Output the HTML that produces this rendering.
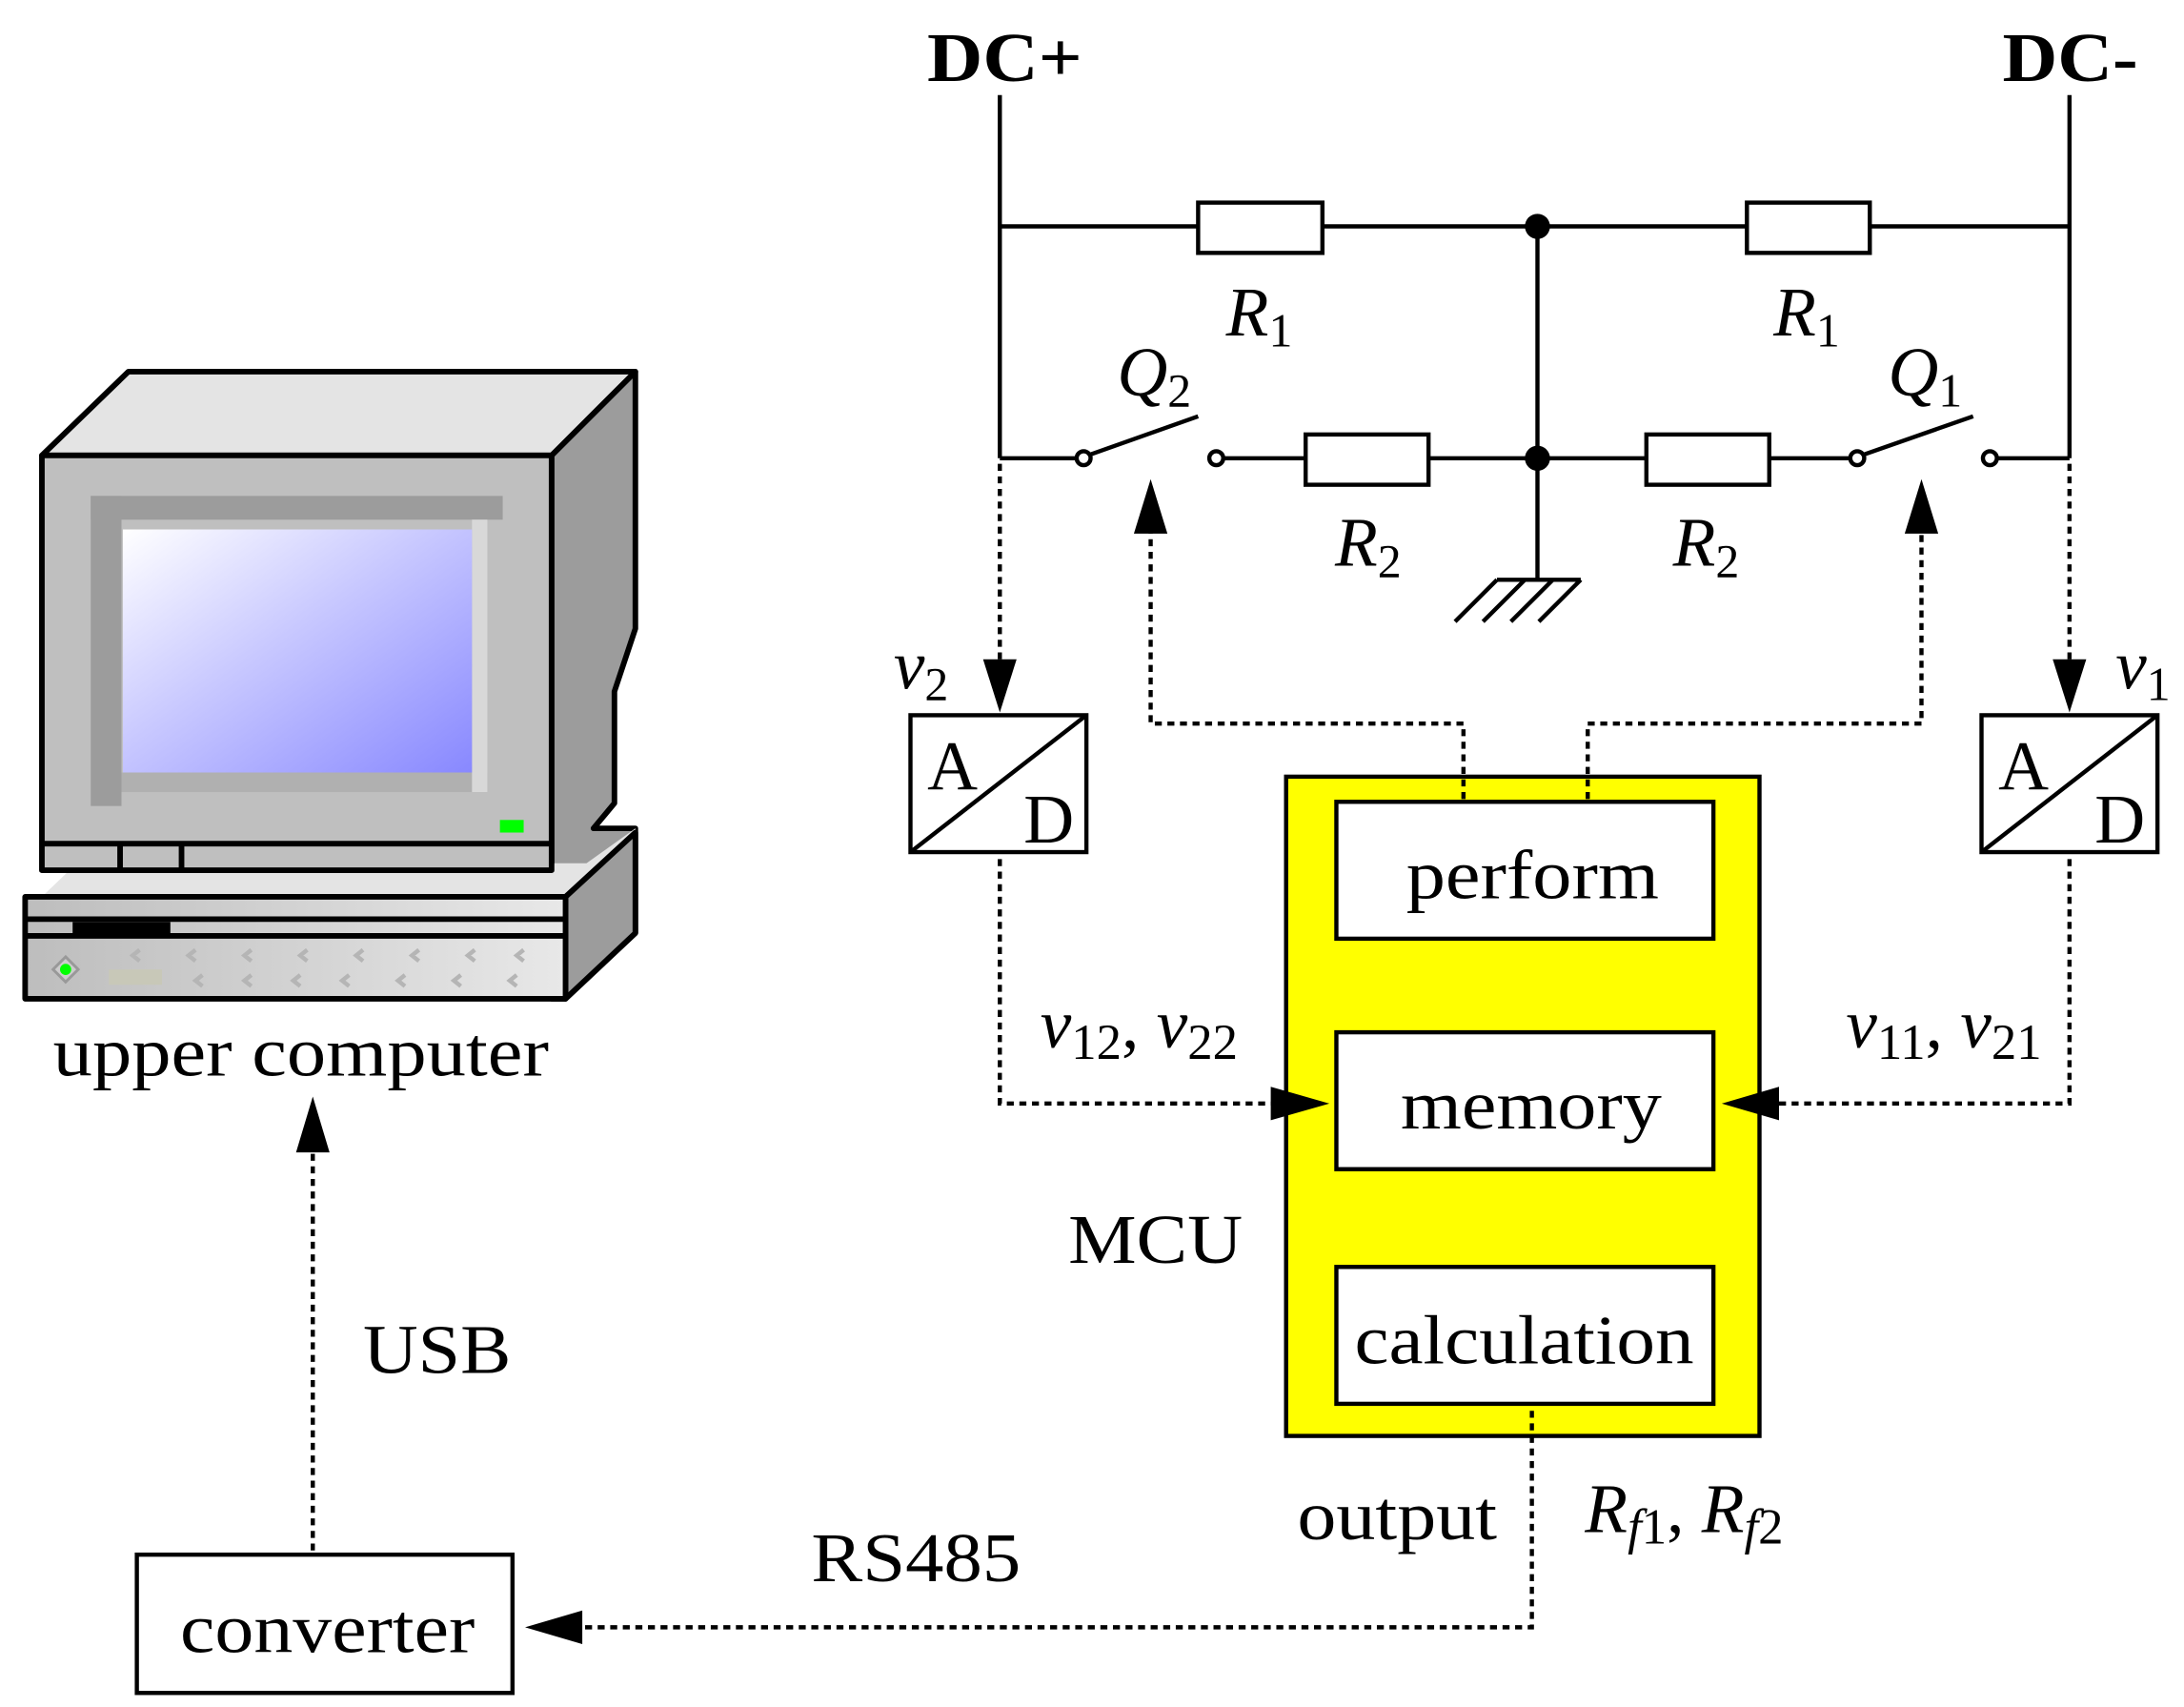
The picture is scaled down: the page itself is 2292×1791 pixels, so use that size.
<!DOCTYPE html>
<html><head><meta charset="utf-8"><style>
html,body{margin:0;padding:0;background:#fff}
svg{display:block}
text{font-family:"Liberation Serif",serif;fill:#000}
</style></head><body>
<svg width="2292" height="1791" viewBox="0 0 1564 1222" xmlns="http://www.w3.org/2000/svg">
<defs>
<linearGradient id="scr" x1="0" y1="0" x2="1" y2="1"><stop offset="0" stop-color="#ffffff"/><stop offset="0.45" stop-color="#c8c8ff"/><stop offset="1" stop-color="#8888ff"/></linearGradient>
<linearGradient id="base" x1="0" y1="0" x2="1" y2="0"><stop offset="0" stop-color="#bdbdbd"/><stop offset="1" stop-color="#e8e8e8"/></linearGradient>
</defs>
<g stroke="#000" stroke-width="3" fill="none">
<line x1="716" y1="68" x2="716" y2="328"/><line x1="1482" y1="68" x2="1482" y2="328"/>
<line x1="716" y1="162" x2="858" y2="162"/><line x1="947" y1="162" x2="1251" y2="162"/><line x1="1339" y1="162" x2="1482" y2="162"/>
<rect x="858" y="145" width="89" height="36" fill="#fff"/><rect x="1251" y="145" width="88" height="36" fill="#fff"/>
<line x1="1101" y1="162" x2="1101" y2="415"/>
<line x1="716" y1="328" x2="771" y2="328"/>
<line x1="779" y1="326" x2="858" y2="298"/>
<line x1="876" y1="328" x2="935" y2="328"/><line x1="1023" y1="328" x2="1179" y2="328"/><line x1="1267" y1="328" x2="1325" y2="328"/>
<line x1="1333" y1="326" x2="1413" y2="298"/>
<line x1="1430" y1="328" x2="1482" y2="328"/>
<rect x="935" y="311" width="88" height="36" fill="#fff"/><rect x="1179" y="311" width="88" height="36" fill="#fff"/>
<circle cx="776" cy="328" r="5" fill="#fff"/><circle cx="871" cy="328" r="5" fill="#fff"/>
<circle cx="1330" cy="328" r="5" fill="#fff"/><circle cx="1425" cy="328" r="5" fill="#fff"/>
<line x1="1072" y1="415" x2="1132" y2="415"/>
<line x1="1072" y1="415" x2="1042" y2="445"/><line x1="1092" y1="415" x2="1062" y2="445"/><line x1="1112" y1="415" x2="1082" y2="445"/><line x1="1132" y1="415" x2="1102" y2="445"/>
<rect x="652" y="512" width="126" height="98" fill="#fff"/><line x1="652" y1="610" x2="778" y2="512"/>
<rect x="1419" y="512" width="126" height="98" fill="#fff"/><line x1="1419" y1="610" x2="1545" y2="512"/>
<rect x="921" y="556" width="339" height="472" fill="#ffff00"/>
<rect x="957" y="574" width="270" height="98" fill="#fff"/>
<rect x="957" y="739" width="270" height="98" fill="#fff"/>
<rect x="957" y="907" width="270" height="98" fill="#fff"/>
<rect x="98" y="1113" width="269" height="99" fill="#fff"/>
</g>
<g fill="#000"><circle cx="1101" cy="162" r="9"/><circle cx="1101" cy="328" r="9"/></g>
<g stroke="#000" stroke-width="3" fill="none" stroke-dasharray="5,4">
<line x1="716" y1="332" x2="716" y2="478"/>
<line x1="1482" y1="332" x2="1482" y2="478"/>
<polyline points="1048,572 1048,518 824,518 824,380"/>
<polyline points="1137,572 1137,518 1376,518 1376,380"/>
<polyline points="716,615 716,790 915,790"/>
<polyline points="1482,615 1482,790 1270,790"/>
<polyline points="1097,1010 1097,1165 415,1165"/>
<line x1="224" y1="1110" x2="224" y2="825"/>
</g>
<g fill="#000">
<path d="M704,472 L728,472 L716,510 z"/><path d="M1470,472 L1494,472 L1482,510 z"/>
<path d="M812,382 L836,382 L824,343 z"/><path d="M1364,382 L1388,382 L1376,343 z"/>
<path d="M910,778 L910,802 L952,790 z"/><path d="M1274,778 L1274,802 L1233,790 z"/>
<path d="M417,1153 L417,1177 L376,1165 z"/>
<path d="M212,825 L236,825 L224,785 z"/>
</g>
<g stroke="#000" stroke-width="4" stroke-linejoin="round">
<path d="M395,326 L455,266 L455,450 L440,495 L440,575 L425,593 L455,593 L455,668 L405,715 L395,715 Z" fill="#9c9c9c"/>
<path d="M30,326 L92,266 L455,266 L395,326 Z" fill="#e4e4e4"/>
<path d="M30,642 L55,618 L420,618 L455,593 L455,668 L405,715 L405,642 Z" fill="#e4e4e4" stroke="none"/>
<path d="M405,642 L455,596 L455,668 L405,715 Z" fill="#9c9c9c"/>
<rect x="30" y="326" width="365" height="297" fill="#bfbfbf"/>
<rect x="18" y="642" width="387" height="73" fill="url(#base)"/>
</g>
<rect x="65" y="355" width="295" height="17" fill="#9c9c9c"/>
<rect x="65" y="355" width="22" height="222" fill="#9c9c9c"/>
<rect x="87" y="553" width="262" height="14" fill="#b0b0b0"/>
<rect x="338" y="372" width="11" height="195" fill="#d8d8d8"/>
<rect x="88" y="379" width="250" height="174" fill="url(#scr)"/>
<rect x="358" y="587" width="17" height="9" fill="#00ff00"/>
<g stroke="#000" stroke-width="4" fill="none">
<line x1="30" y1="604" x2="395" y2="604"/><line x1="86" y1="604" x2="86" y2="623"/><line x1="130" y1="604" x2="130" y2="623"/>
<line x1="18" y1="658" x2="405" y2="658"/><line x1="18" y1="670" x2="405" y2="670"/>
</g>
<rect x="52" y="660" width="70" height="9" fill="#000"/>
<rect x="78" y="694" width="38" height="11" fill="#c8c8b8"/>
<path d="M47,685 L56,694 L47,703 L38,694 Z" fill="#ccc" stroke="#999" stroke-width="2"/><circle cx="47" cy="694" r="4" fill="#00ff00"/>
<g fill="none" stroke="#b5b5b5" stroke-width="3">
<path d="M100,680 l-5,4 l5,4 M140,680 l-5,4 l5,4 M180,680 l-5,4 l5,4 M220,680 l-5,4 l5,4 M260,680 l-5,4 l5,4 M300,680 l-5,4 l5,4 M340,680 l-5,4 l5,4 M375,680 l-5,4 l5,4"/>
<path d="M215,698 l-5,4 l5,4 M250,698 l-5,4 l5,4 M290,698 l-5,4 l5,4 M330,698 l-5,4 l5,4 M370,698 l-5,4 l5,4 M180,698 l-5,4 l5,4 M145,698 l-5,4 l5,4"/>
</g>
<g font-size="50">
<text x="664" y="58" font-weight="bold" textLength="111" lengthAdjust="spacingAndGlyphs">DC+</text>
<text x="1434" y="58" font-weight="bold" textLength="97" lengthAdjust="spacingAndGlyphs">DC-</text>
<text x="878" y="240" font-style="italic">R<tspan font-size="34" font-style="normal" dy="8">1</tspan></text>
<text x="1270" y="240" font-style="italic">R<tspan font-size="34" font-style="normal" dy="8">1</tspan></text>
<text x="800" y="283" font-style="italic">Q<tspan font-size="34" font-style="normal" dy="8">2</tspan></text>
<text x="1352" y="283" font-style="italic">Q<tspan font-size="34" font-style="normal" dy="8">1</tspan></text>
<text x="956" y="405" font-style="italic">R<tspan font-size="34" font-style="normal" dy="8">2</tspan></text>
<text x="1198" y="405" font-style="italic">R<tspan font-size="34" font-style="normal" dy="8">2</tspan></text>
<text x="640" y="493" font-style="italic">v<tspan font-size="34" font-style="normal" dy="8">2</tspan></text>
<text x="1515" y="493" font-style="italic">v<tspan font-size="34" font-style="normal" dy="8">1</tspan></text>
<text x="664" y="565">A</text><text x="733" y="603">D</text>
<text x="1431" y="565">A</text><text x="1500" y="603">D</text>
<text x="1007" y="643" textLength="181" lengthAdjust="spacingAndGlyphs">perform</text>
<text x="1003" y="808" textLength="187" lengthAdjust="spacingAndGlyphs">memory</text>
<text x="970" y="976" textLength="243" lengthAdjust="spacingAndGlyphs">calculation</text>
<text x="765" y="904" textLength="125" lengthAdjust="spacingAndGlyphs">MCU</text>
<text x="745" y="750" font-style="italic">v<tspan font-size="36" font-style="normal" dy="8">12</tspan><tspan font-style="normal" dy="-8">, </tspan>v<tspan font-size="36" font-style="normal" dy="8">22</tspan></text>
<text x="1322" y="750" font-style="italic">v<tspan font-size="36" font-style="normal" dy="8">11</tspan><tspan font-style="normal" dy="-8">, </tspan>v<tspan font-size="36" font-style="normal" dy="8">21</tspan></text>
<text x="38" y="770" textLength="355" lengthAdjust="spacingAndGlyphs">upper computer</text>
<text x="260" y="983" textLength="106" lengthAdjust="spacingAndGlyphs">USB</text>
<text x="581" y="1132" textLength="150" lengthAdjust="spacingAndGlyphs">RS485</text>
<text x="929" y="1102" textLength="143" lengthAdjust="spacingAndGlyphs">output</text>
<text x="1135" y="1097" font-style="italic">R<tspan font-size="36" dy="8">f</tspan><tspan font-size="36" font-style="normal">1</tspan><tspan font-style="normal" dy="-8">, </tspan>R<tspan font-size="36" dy="8">f</tspan><tspan font-size="36" font-style="normal">2</tspan></text>
<text x="129" y="1183" textLength="211" lengthAdjust="spacingAndGlyphs">converter</text>
</g>
</svg>
</body></html>
